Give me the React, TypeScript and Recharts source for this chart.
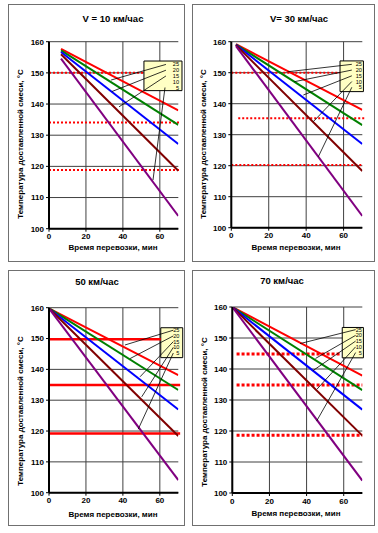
import React from "react"
import { LineChart, Line, XAxis, YAxis, CartesianGrid, ReferenceLine, ReferenceArea, ReferenceDot } from "recharts"

// layer thickness, cm (legend labels) and line colours
const layers = ["25", "20", "15", "10", "5"]
const layerColors = ["#ff0000", "#008000", "#0000ff", "#800000", "#800080"]

const titles = ["V = 10 км/час", "V= 30 км/час", "50 км/час", "70 км/час"]
const startTimes = [6.5, 2.5, 0.5, 0]
const endTime = 70

// temperature at the first point and at 70 min, per layer (25..5)
const v10Start = [157.7, 157.2, 156.7, 156.0, 154.6]
const v10End = [138.0, 133.3, 127.2, 118.6, 104.1]
const v30Start = [159.2, 159.1, 159.0, 158.9, 158.6]
const v30End = [138.0, 133.1, 127.0, 118.3, 103.8]
const v50Start = [159.6, 159.6, 159.5, 159.5, 159.4]
const v50End = [138.1, 133.3, 127.0, 118.4, 104.1]
const v70Start = [160, 160, 160, 160, 160]
const v70End = [137.9, 133.2, 126.9, 118.5, 104.0]

// red reference levels
const v10Levels = [150, 134.1, 118.8]
const v30Levels = [150, 135.3, 120.2]
const v50Levels = [149.8, 134.9, 119.2]
const v70Levels = [144.8, 134.8, 118.6]

const yTicks = [100, 110, 120, 130, 140, 150, 160]
const xTicks = [0, 20, 40, 60]

const FONT = "'Liberation Sans', Arial, sans-serif"

const buildRows = (t0: number, start: number[], end: number[]) => [
  Object.fromEntries([["t", t0], ...layers.map((l, i) => [`s${l}`, start[i]])]),
  Object.fromEntries([["t", endTime], ...layers.map((l, i) => [`s${l}`, end[i]])]),
]

const labelYs = [152.7, 150.85, 149.0, 147.15, 145.3]

const panels = [
  {
    box: { x: 8, y: 4, w: 177, h: 258 },
    plot: { l: 49, t: 41.7, r: 178.3, b: 228.7 },
    rows: buildRows(startTimes[0], v10Start, v10End),
    levels: v10Levels,
    levelSpans: [[0, 51.4], [0, 71], [0, 71]],
    levelStyle: { width: 2, dash: "2 2" },
    legend: { x1: 51.4, x2: 72, y1: 144.3, y2: 153.8, labelX: 70.4 },
    leaders: [
      [0, 63.3, 33.6, 147.7],
      [1, 63.3, 34, 144],
      [2, 63.3, 37.9, 139.1],
      [4, 62.8, 56.3, 115.6],
    ],
    titleX: 113, titleY: 19, xTitleX: 113, xTitleY: 248, yTitleX: 21, yTitleY: 144,
  },
  {
    box: { x: 192, y: 4, w: 183, h: 258 },
    plot: { l: 231.3, t: 41.7, r: 362.3, b: 227.7 },
    rows: buildRows(startTimes[1], v30Start, v30End),
    levels: v30Levels,
    levelSpans: [[0, 58], [3.7, 72], [0, 70]],
    levelStyle: { width: 2, dash: "2 2" },
    legend: { x1: 58.1, x2: 70.6, y1: 143.9, y2: 153.8, labelX: 69.8 },
    leaders: [
      [0, 64.4, 30.1, 150.3],
      [1, 64.4, 33.7, 147.1],
      [2, 64.4, 38.5, 142.8],
      [3, 64.4, 43.8, 134.2],
      [4, 64.4, 46.5, 122.9],
    ],
    titleX: 299, titleY: 19, xTitleX: 296, xTitleY: 248, yTitleX: 204, yTitleY: 144,
  },
  {
    box: { x: 8, y: 270, w: 177, h: 256 },
    plot: { l: 49, t: 307.7, r: 178.3, b: 492.7 },
    rows: buildRows(startTimes[2], v50Start, v50End),
    levels: v50Levels,
    levelSpans: [[0, 60.5], [0, 71], [0, 71]],
    levelStyle: { width: 2.5, dash: undefined },
    legend: { x1: 60.5, x2: 72.4, y1: 143.8, y2: 153.5, labelX: 70.6 },
    leaders: [
      [0, 67.3, 41.1, 147.9],
      [1, 67.3, 43.9, 143.5],
      [2, 67.3, 49.3, 137.6],
      [3, 67.3, 50.2, 131.1],
      [4, 67.3, 48.3, 120.6],
    ],
    titleX: 97, titleY: 282, xTitleX: 113, xTitleY: 515, yTitleX: 21, yTitleY: 411,
  },
  {
    box: { x: 192, y: 270, w: 183, h: 256 },
    plot: { l: 232.3, t: 307, r: 362.3, b: 493 },
    rows: buildRows(startTimes[3], v70Start, v70End),
    levels: v70Levels,
    levelSpans: [[2.3, 58.3], [2.3, 70], [2.3, 70]],
    levelStyle: { width: 3, dash: "3 2" },
    legend: { x1: 59.2, x2: 70.6, y1: 143.6, y2: 153.4, labelX: 69.8 },
    leaders: [
      [0, 66.4, 36.5, 148.2],
      [1, 66.4, 44.8, 143.4],
      [2, 66.4, 43.5, 139.5],
      [3, 66.4, 45.6, 133.5],
      [4, 66.4, 45.4, 123.2],
    ],
    titleX: 282, titleY: 281, xTitleX: 296, xTitleY: 514, yTitleX: 205, yTitleY: 412,
  },
]

const Y_AXIS_W = 30
const X_AXIS_H = 20

function Text({ x, y, size, rotate, children }: any) {
  return (
    <div
      style={{
        position: "absolute",
        left: x,
        top: y,
        transform: `translate(-50%, -50%)${rotate ? " rotate(-90deg)" : ""}`,
        whiteSpace: "nowrap",
        fontFamily: FONT,
        fontWeight: 700,
        fontSize: size,
        color: "#000",
        lineHeight: 1,
      }}
    >
      {children}
    </div>
  )
}

function Panel({ p, title }: { p: (typeof panels)[number]; title: string }) {
  const { box, plot } = p
  const margin = {
    top: plot.t - box.y,
    right: box.x + box.w - plot.r,
    bottom: box.y + box.h - plot.b - X_AXIS_H,
    left: plot.l - box.x - Y_AXIS_W,
  }
  const tickStyle = { fontFamily: FONT, fontWeight: 700, fontSize: 8, fill: "#000" }
  return (
    <>
      <div
        style={{
          position: "absolute",
          left: box.x,
          top: box.y,
          width: box.w,
          height: box.h,
          border: "1px solid #707070",
          boxSizing: "border-box",
        }}
      />
      <div style={{ position: "absolute", left: box.x, top: box.y }}>
        <LineChart width={box.w} height={box.h} data={p.rows} margin={margin}>
          <CartesianGrid stroke="#404040" strokeWidth={1} horizontalValues={yTicks} verticalValues={xTicks} />
          <XAxis
            dataKey="t"
            type="number"
            domain={[0, 70]}
            ticks={xTicks}
            height={X_AXIS_H}
            tick={tickStyle}
            tickSize={3}
            tickMargin={2}
            axisLine={{ stroke: "#000", strokeWidth: 2 }}
            tickLine={{ stroke: "#000" }}
            allowDataOverflow
          />
          <YAxis
            type="number"
            domain={[100, 160]}
            ticks={yTicks}
            width={Y_AXIS_W}
            tick={tickStyle}
            tickSize={3}
            tickMargin={2}
            axisLine={{ stroke: "#000", strokeWidth: 2 }}
            tickLine={{ stroke: "#000" }}
            allowDataOverflow
          />
          {p.levels.map((lv, i) => (
            <ReferenceLine
              key={`lv${i}`}
              segment={[
                { x: p.levelSpans[i][0], y: lv },
                { x: p.levelSpans[i][1], y: lv },
              ]}
              stroke="#ff0000"
              strokeWidth={p.levelStyle.width}
              strokeDasharray={p.levelStyle.dash}
              ifOverflow="visible"
            />
          ))}
          {layers.map((l, i) => (
            <Line
              key={l}
              dataKey={`s${l}`}
              type="linear"
              stroke={layerColors[i]}
              strokeWidth={2}
              dot={false}
              isAnimationActive={false}
            />
          ))}
          <ReferenceArea
            x1={p.legend.x1}
            x2={p.legend.x2}
            y1={p.legend.y1}
            y2={p.legend.y2}
            fill="#ffffc4"
            fillOpacity={1}
            stroke="#000"
            strokeWidth={1}
            ifOverflow="visible"
          />
          {p.leaders.map(([li, sx, ex, ey], k) => (
            <ReferenceLine
              key={`ld${k}`}
              segment={[
                { x: sx, y: labelYs[li] },
                { x: ex, y: ey },
              ]}
              stroke="#000"
              strokeWidth={0.8}
              ifOverflow="visible"
            />
          ))}
          {layers.map((l, i) => (
            <ReferenceDot
              key={`lb${l}`}
              x={p.legend.labelX}
              y={labelYs[i]}
              r={0}
              ifOverflow="visible"
              shape={(sp: any) => (
                <text
                  x={sp.cx}
                  y={sp.cy}
                  textAnchor="end"
                  dominantBaseline="central"
                  fontFamily={FONT}
                  fontSize={5.6}
                  fill="#000"
                >
                  {l}
                </text>
              )}
            />
          ))}
        </LineChart>
      </div>
      <Text x={p.titleX} y={p.titleY} size={9.5}>{title}</Text>
      <Text x={p.xTitleX} y={p.xTitleY} size={8}>Время перевозки, мин</Text>
      <Text x={p.yTitleX} y={p.yTitleY} size={8} rotate>
        Температура доставленной смеси,  °С
      </Text>
    </>
  )
}

export default function App() {
  return (
    <div style={{ position: "absolute", left: 0, top: 0, width: 378, height: 533, background: "#fff" }}>
      {panels.map((p, i) => (
        <Panel key={i} p={p} title={titles[i]} />
      ))}
    </div>
  )
}
